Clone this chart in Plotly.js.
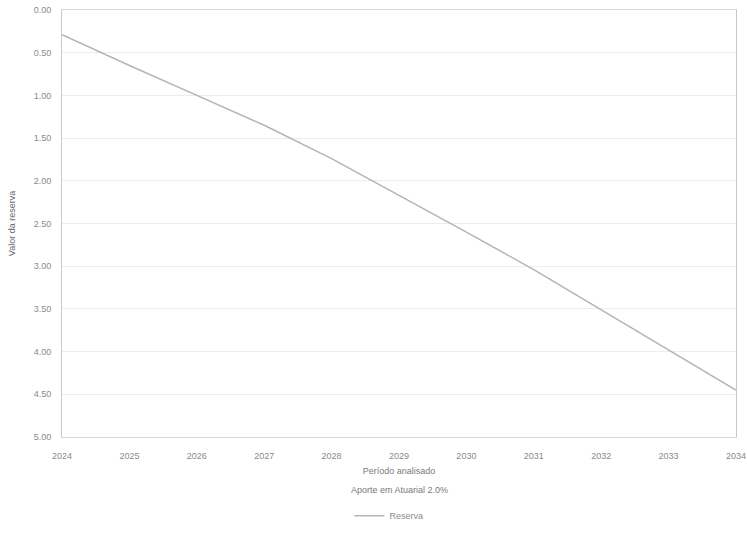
<!DOCTYPE html>
<html>
<head>
<meta charset="utf-8">
<script src="https://cdn.plot.ly/plotly-3.0.1.min.js"></script>
<style>html,body{margin:0;padding:0;background:#fff;}#chart{width:747px;height:533px;}</style>
</head>
<body>
<div id="chart"></div>
<script>
const years = [2024, 2025, 2026, 2027, 2028, 2029, 2030, 2031, 2032, 2033, 2034];
const reserva = [0.29, 0.65, 1.00, 1.35, 1.74, 2.17, 2.60, 3.04, 3.51, 3.97, 4.45];
const yTicks = [0, 0.5, 1, 1.5, 2, 2.5, 3, 3.5, 4, 4.5, 5];
const seriesName = "Reserva";
const xTitle = "Período analisado";
const xSubtitle = "Aporte em Atuarial 2.0%";
const yTitle = "Valor da reserva";

const trace = {
  x: years, y: reserva, type: "scatter", mode: "lines", name: seriesName,
  line: {color: "#b4b4b4", width: 1.5}
};
const layout = {
  width: 747, height: 533,
  margin: {l: 62, r: 11, t: 10, b: 96, autoexpand: false},
  paper_bgcolor: "#fff", plot_bgcolor: "#fff",
  font: {family: "Liberation Sans, Arial, sans-serif", size: 9, color: "#8a8a8a"},
  showlegend: true,
  legend: {orientation: "h", x: 0.485, xanchor: "center", y: 0.005, yref: "container", yanchor: "bottom",
           font: {size: 9, color: "#8a8a8a"}},
  xaxis: {
    range: [2023.999, 2034.001], tickvals: years, ticktext: years.map(String),
    showgrid: false, zeroline: false, showline: true, linecolor: "#d8d8d8", mirror: true,
    ticks: "", ticklen: 0, ticklabelstandoff: 10, automargin: false, ticklabeloverflow: "allow",
    title: {text: xTitle, font: {size: 9, color: "#7a7a7a"}, standoff: 7}
  },
  yaxis: {
    range: [5, 0], tickvals: yTicks, tickformat: ".2f",
    showgrid: true, gridcolor: "#ededed", zeroline: false, automargin: false,
    showline: true, linecolor: "#c8c8c8", mirror: true, ticks: "", ticklabelstandoff: 8,
    title: {text: yTitle, font: {size: 9, color: "#6a6a6a"}, standoff: 16}
  },
  annotations: [{
    text: xSubtitle, xref: "paper", yref: "paper", x: 0.5, y: -0.123, yanchor: "middle",
    showarrow: false, font: {size: 9, color: "#7a7a7a"}
  }]
};
Plotly.newPlot("chart", [trace], layout, {displayModeBar: false, staticPlot: true});
</script>
</body>
</html>
